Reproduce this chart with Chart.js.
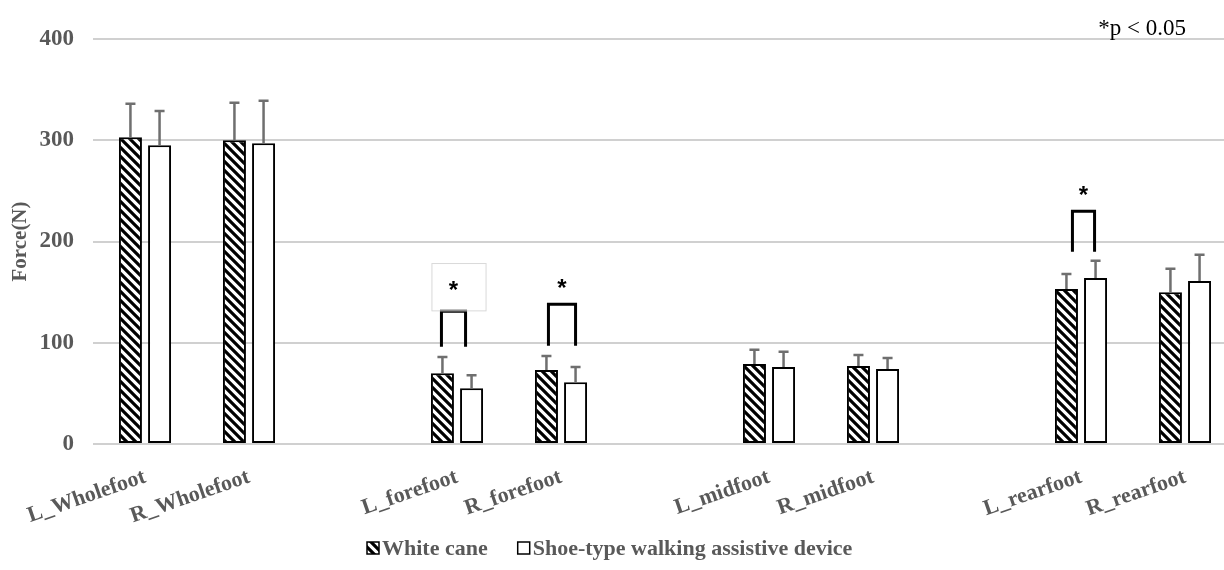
<!DOCTYPE html>
<html>
<head>
<meta charset="utf-8">
<title>Force(N)</title>
<script src="https://cdn.jsdelivr.net/npm/chart.js@4.4.1/dist/chart.umd.min.js"></script>
<style>
    html, body { margin: 0; padding: 0; background: #fff; overflow: hidden; }
    #wrap { width: 1240px; height: 570px; }
</style>
</head>
<body>
<div id="wrap"><canvas id="forceChart"></canvas></div>
<script>
// Data (blank slots are the gaps between foot regions)
const categories = ['L_Wholefoot', 'R_Wholefoot', '', 'L_forefoot', 'R_forefoot', '', 'L_midfoot', 'R_midfoot', '', 'L_rearfoot', 'R_rearfoot'];
const whiteCane = [303, 300, null, 70, 73, null, 79, 77, null, 153, 150];
const whiteCaneSD = [33, 37, null, 16, 14, null, 14, 11, null, 15, 23];
const shoeDevice = [295, 297, null, 55, 61, null, 76, 74, null, 164, 161];
const shoeDeviceSD = [34, 42, null, 13, 15, null, 15, 11, null, 17, 26];
const seriesNames = ['White cane', 'Shoe-type walking assistive device'];
const yTicks = [0, 100, 200, 300, 400];

// Significance brackets: category index, bracket top, leg bottom, star height (N)
const sigCategory = [3, 4, 9];
const sigTop = [131, 138, 230];
const sigBottom = [96, 97, 190];
const sigStar = [157, 159, 251];

const SERIF = '"Liberation Serif", "Times New Roman", serif';
const GREY_TEXT = '#595959';

/**
 * Build the black/white diagonal hatch used for the white cane bars
 */
function makeHatch(ctx) {
    const size = 9;
    const tile = document.createElement('canvas');
    tile.width = size;
    tile.height = size;
    const g = tile.getContext('2d');
    g.fillStyle = '#fff';
    g.fillRect(0, 0, size, size);
    g.strokeStyle = '#000';
    g.lineWidth = 3.2;
    g.beginPath();
    g.moveTo(-2, -2); g.lineTo(size + 2, size + 2);
    g.moveTo(-2, size - 2); g.lineTo(2, size + 2);
    g.moveTo(size - 2, -2); g.lineTo(size + 2, 2);
    g.stroke();
    return ctx.createPattern(tile, 'repeat');
}

const canvas = document.getElementById('forceChart');
const hatch = makeHatch(canvas.getContext('2d'));

// Upper error bars
const errorBars = {
    id: 'errorBars',
    afterDatasetsDraw(chart) {
        const ctx = chart.ctx;
        const y = chart.scales.y;
        const sds = [whiteCaneSD, shoeDeviceSD];
        ctx.save();
        ctx.strokeStyle = '#6f6f6f';
        ctx.lineWidth = 2.5;
        chart.data.datasets.forEach((ds, d) => {
            chart.getDatasetMeta(d).data.forEach((bar, i) => {
                const v = ds.data[i];
                if (v === null) return;
                const top = y.getPixelForValue(v + sds[d][i]);
                ctx.beginPath();
                ctx.moveTo(bar.x, bar.y);
                ctx.lineTo(bar.x, top);
                ctx.moveTo(bar.x - 5, top);
                ctx.lineTo(bar.x + 5, top);
                ctx.stroke();
            });
        });
        ctx.restore();
    }
};

// Brackets, stars, p-value note and legend
const annotations = {
    id: 'annotations',
    afterDraw(chart) {
        const ctx = chart.ctx;
        const y = chart.scales.y;
        const area = chart.chartArea;
        const wc = chart.getDatasetMeta(0).data;
        const sh = chart.getDatasetMeta(1).data;
        const legShift = [[-1, -6], [2, 0], [6, -1]];

        ctx.save();
        sigCategory.forEach((c, k) => {
            const x1 = wc[c].x + legShift[k][0];
            const x2 = sh[c].x + legShift[k][1];
            const yt = y.getPixelForValue(sigTop[k]);
            const yb = y.getPixelForValue(sigBottom[k]);
            const ys = y.getPixelForValue(sigStar[k]);
            ctx.strokeStyle = '#000';
            ctx.lineWidth = 3;
            ctx.lineJoin = 'miter';
            ctx.beginPath();
            ctx.moveTo(x1, yb);
            ctx.lineTo(x1, yt);
            ctx.lineTo(x2, yt);
            ctx.lineTo(x2, yb);
            ctx.stroke();

            // first star sits in a light text box
            if (k === 0) {
                ctx.strokeStyle = '#d9d9d9';
                ctx.lineWidth = 1;
                ctx.strokeRect(x1 - 9.5, ys - 21.5, (x2 - x1) + 30, yt - ys + 21);
            }

            ctx.fillStyle = '#000';
            ctx.font = 'bold 24px "Liberation Sans", Arial, sans-serif';
            ctx.textAlign = 'center';
            ctx.textBaseline = 'alphabetic';
            ctx.fillText('*', (x1 + x2) / 2, ys + 13);
        });

        // p-value note
        ctx.fillStyle = '#000';
        ctx.font = '23px ' + SERIF;
        ctx.textAlign = 'right';
        ctx.textBaseline = 'alphabetic';
        ctx.fillText('*p < 0.05', area.right - 51, 35);

        // legend
        ctx.font = 'bold 22px ' + SERIF;
        const box = 12, gapText = 3, gapItem = 30;
        const widths = seriesNames.map(n => ctx.measureText(n).width);
        let x = 367;
        const ly = 548;
        seriesNames.forEach((name, i) => {
            ctx.fillStyle = i === 0 ? hatch : '#fff';
            ctx.fillRect(x, ly - box / 2, box, box);
            ctx.strokeStyle = '#000';
            ctx.lineWidth = 1.5;
            ctx.strokeRect(x, ly - box / 2, box, box);
            x += box + gapText;
            ctx.fillStyle = GREY_TEXT;
            ctx.textAlign = 'left';
            ctx.textBaseline = 'middle';
            ctx.fillText(name, x, ly + 1);
            x += widths[i] + gapItem;
        });
        ctx.restore();
    }
};

new Chart(canvas, {
    type: 'bar',
    data: {
        labels: categories,
        datasets: [{
            label: seriesNames[0],
            data: whiteCane,
            backgroundColor: hatch,
            borderColor: '#000',
            borderWidth: 2,
            borderSkipped: false
        }, {
            label: seriesNames[1],
            data: shoeDevice,
            backgroundColor: '#fff',
            borderColor: '#000',
            borderWidth: 2,
            borderSkipped: false
        }]
    },
    options: {
        responsive: true,
        maintainAspectRatio: false,
        animation: false,
        categoryPercentage: 0.56,
        barPercentage: 0.79,
        layout: {
            padding: { top: 39, right: 3, bottom: 40, left: 0 }
        },
        plugins: {
            legend: { display: false },
            tooltip: { enabled: false }
        },
        scales: {
            x: {
                grid: { display: false },
                border: { display: false },
                ticks: {
                    autoSkip: false,
                    minRotation: 19,
                    maxRotation: 19,
                    padding: 12,
                    color: GREY_TEXT,
                    font: { family: SERIF, size: 22, weight: 'bold' }
                },
                afterFit: function(scale) { scale.height = 86; }
            },
            y: {
                min: 0,
                max: 400,
                afterBuildTicks: function(axis) {
                    axis.ticks = yTicks.map(v => ({ value: v }));
                },
                grid: { color: '#d0d0d0', lineWidth: 2, drawTicks: false },
                border: { display: false },
                ticks: {
                    padding: 19,
                    color: GREY_TEXT,
                    font: { family: SERIF, size: 23, weight: 'bold' }
                },
                title: {
                    display: true,
                    text: 'Force(N)',
                    color: GREY_TEXT,
                    padding: { top: 8, bottom: 0 },
                    font: { family: SERIF, size: 21, weight: 'bold' }
                },
                afterFit: function(scale) { scale.width = 93; }
            }
        }
    },
    plugins: [errorBars, annotations]
});
</script>
</body>
</html>
